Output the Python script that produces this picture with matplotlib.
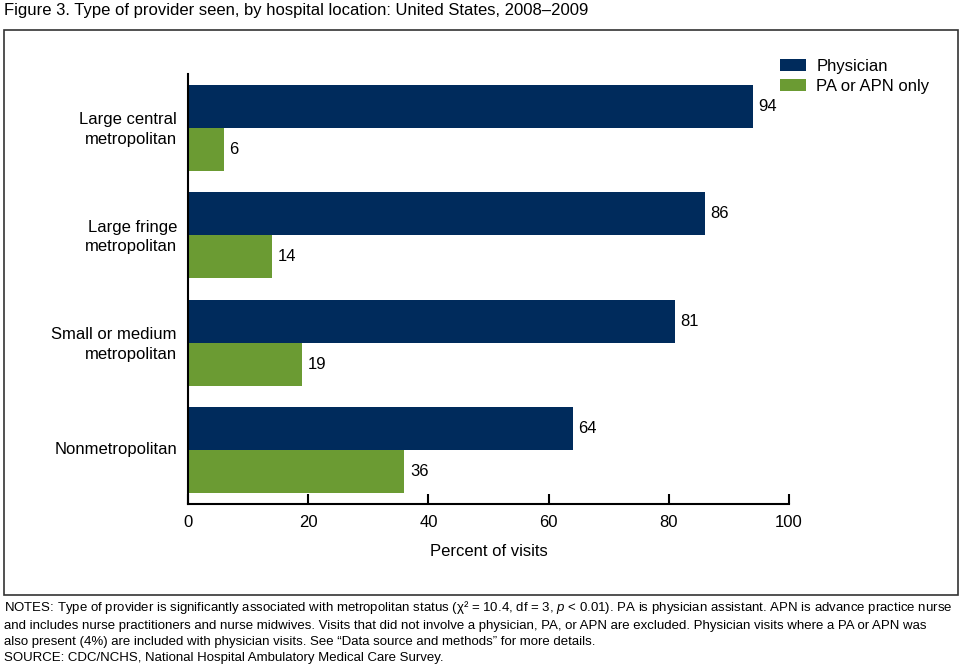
import matplotlib
matplotlib.use('Agg')
import numpy as np
import matplotlib.pyplot as plt
from matplotlib.patches import Rectangle

categories = ['Large central\nmetropolitan', 'Large fringe\nmetropolitan',
              'Small or medium\nmetropolitan', 'Nonmetropolitan']
physician = [94, 86, 81, 64]
pa_apn = [6, 14, 19, 36]
series_names = ['Physician', 'PA or APN only']
xticks = [0, 20, 40, 60, 80, 100]

navy = '#002b5c'
green = '#6b9b33'

plt.rcParams['font.family'] = ['Liberation Sans', 'DejaVu Sans']
plt.rcParams['mathtext.fontset'] = 'custom'
plt.rcParams['mathtext.rm'] = 'Liberation Sans'
plt.rcParams['mathtext.it'] = 'Liberation Sans:italic'

W, H = 960, 672
fig = plt.figure(figsize=(W / 100, H / 100), dpi=100)

def px(x0, y0, x1, y1):
    # pixel box -> figure fraction rect
    return [x0 / W, 1 - y1 / H, (x1 - x0) / W, (y1 - y0) / H]

# frame around the chart
fig.patches.append(Rectangle((4 / W, 1 - 595 / H), 954 / W, 565 / H,
                             transform=fig.transFigure, fill=False,
                             edgecolor='#333333', linewidth=1.2))

ax = fig.add_axes(px(188, 74, 789, 504))
y = np.arange(len(categories))
h = 0.4
b1 = ax.barh(y - h / 2, physician, height=h, color=navy, label=series_names[0])
b2 = ax.barh(y + h / 2, pa_apn, height=h, color=green, label=series_names[1])

for bars, vals in ((b1, physician), (b2, pa_apn)):
    for bar, v in zip(bars, vals):
        ax.annotate(str(v), (v, bar.get_y() + bar.get_height() / 2),
                    xytext=(4, 0), textcoords='offset points',
                    va='center', ha='left', fontsize=12)

ax.set_xlim(0, 100)
ax.set_ylim(len(categories) - 0.5, -0.5)
ax.set_xticks(xticks)
ax.set_xticklabels([str(t) for t in xticks], fontsize=12)
ax.set_yticks(y - 0.02)
ax.set_yticklabels(categories, fontsize=12, linespacing=1.4)
ax.tick_params(axis='x', direction='in', length=7, width=1.5, pad=8)
ax.tick_params(axis='y', length=0, pad=8)
for s in ('top', 'right'):
    ax.spines[s].set_visible(False)
for s in ('left', 'bottom'):
    ax.spines[s].set_linewidth(1.5)
ax.set_xlabel('Percent of visits', fontsize=12, labelpad=10)

ax.legend(loc='upper left', bbox_to_anchor=(773 / W, 1 - 52 / H),
          bbox_transform=fig.transFigure, frameon=False, fontsize=12,
          handlelength=1.6, handleheight=0.7, handletextpad=0.6,
          labelspacing=0.3, borderaxespad=0)

fig.text(4 / W, 1 - 3 / H,
         'Figure 3. Type of provider seen, by hospital location: United States, 2008\u20132009',
         ha='left', va='top', fontsize=12)

notes = ('NOTES: Type of provider is significantly associated with metropolitan status '
         '(\u03c7\u00b2 = 10.4, df = 3, $p$ < 0.01). PA is physician assistant. APN is advance practice nurse\n'
         'and includes nurse practitioners and nurse midwives. Visits that did not involve a physician, '
         'PA, or APN are excluded. Physician visits where a PA or APN was\n'
         'also present (4%) are included with physician visits. See \u201cData source and methods\u201d '
         'for more details.\n'
         'SOURCE: CDC/NCHS, National Hospital Ambulatory Medical Care Survey.')
nt = fig.text(4 / W, 1 - 599 / H, notes, ha='left', va='top', fontsize=10,
              linespacing=1.45)

# the original notes use a narrow face; shrink to the same line width instead
fig.canvas.draw()
wpx = nt.get_window_extent().width
nt.set_fontsize(10 * 950 / wpx)

fig.savefig('out.png', dpi=100)
